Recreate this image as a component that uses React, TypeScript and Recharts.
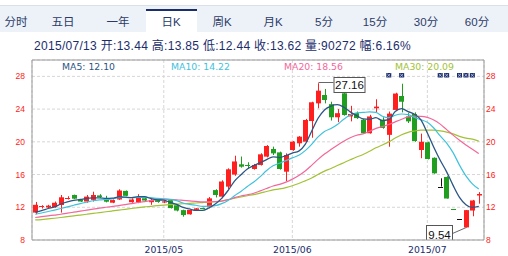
import React from 'react';
import { ComposedChart, Bar, Line, XAxis, YAxis, CartesianGrid, Scatter, ReferenceLine } from 'recharts';

const opens = [11.35,12.0,11.97,12.0,12.28,13.05,13.5,12.95,12.7,12.9, 13.45,13.0,12.56,12.95,14.0,12.62,12.6,13.1,12.62,12.95, 12.58,12.87,12.25,11.65,11.14,11.68,11.9,12.0,14.1,13.3, 14.52,16.0,17.25,17.12,16.68,17.17,18.19,19.12,18.71,16.35, 19.0,19.82,20.02,22.54,24.7,25.72,24.6,23.0,25.93,23.1, 23.5,22.7,21.05,24.1,22.7,20.85,23.9,25.6,23.1,23.4, 19.0,19.94,18.05,14.53,15.7,11.78,10.59,9.54,11.6,13.44];
const closes = [12.3,12.1,12.2,12.55,13.22,13.15,13.05,12.7,13.3,13.5, 13.25,12.68,12.88,14.05,13.4,12.95,13.25,12.82,12.9,12.65, 12.72,11.9,11.6,11.05,11.67,11.87,11.85,13.09,13.5,15.15, 16.64,17.6,16.96,17.06,17.17,18.47,19.49,18.59,16.68,18.39, 20.02,20.63,22.67,24.83,26.25,25.11,23.0,23.5,23.28,23.4, 22.9,21.05,23.1,24.3,21.7,23.45,25.9,24.9,22.5,20.1, 20.0,17.9,16.15,14.53,13.07,11.76,10.59,11.65,12.83,13.62];
const highs = [12.65,12.25,12.3,12.7,13.5,13.35,13.55,13.0,13.5,13.9, 13.6,13.4,12.95,14.2,14.05,13.1,13.6,13.3,13.05,13.0, 12.8,12.95,12.3,11.7,11.7,11.9,11.95,13.25,14.2,15.3, 16.76,18.3,18.2,17.5,17.3,18.6,19.6,19.41,18.8,18.59, 20.1,20.7,22.8,24.9,27.16,26.46,24.9,24.0,26.0,24.4, 23.7,22.8,23.3,25.2,23.0,23.7,26.0,27.1,23.5,23.6, 21.0,20.0,18.1,15.54,15.8,11.78,10.59,11.65,12.9,13.85];
const lows = [11.15,11.85,11.9,11.95,11.35,12.95,13.0,12.65,12.55,12.7, 13.15,12.6,12.5,12.9,13.35,12.55,12.5,12.7,12.3,12.55, 12.5,11.85,11.5,10.85,11.1,11.6,11.8,11.87,13.2,13.1, 14.2,15.85,16.84,16.7,16.6,17.1,18.1,18.39,16.6,15.21, 18.9,19.41,19.95,20.5,24.1,24.7,22.6,22.4,23.2,22.5, 22.8,21.0,21.0,23.6,21.6,19.4,23.85,23.6,22.3,20.0, 18.0,17.85,16.1,14.53,13.07,11.76,10.59,9.54,10.9,12.44];

const ma5 = [11.4,11.6,11.85,12.05,12.4,12.65,12.85,12.95,13.08,13.14, 13.16,13.09,13.12,13.27,13.25,13.19,13.31,13.29,13.06,12.91, 12.87,12.6,12.35,11.98,11.79,11.62,11.61,11.91,12.4,13.09, 14.05,15.2,15.97,16.68,17.09,17.45,17.83,18.16,18.08,18.32, 18.63,18.86,19.68,21.3,22.88,23.9,24.37,24.54,24.23,23.66, 23.2,22.8,22.75,22.95,22.6,22.7,23.7,24.05,23.7,23.37, 22.68,21.08,19.33,17.74,16.33,14.68,13.22,12.32,11.98,12.10];
const ma10 = [11.15,11.3,11.48,11.66,11.85,12.05,12.25,12.45,12.62,12.8, 12.9,12.96,13.02,13.17,13.2,13.17,13.2,13.2,13.17,13.08, 13.03,12.95,12.82,12.52,12.35,12.25,12.1,12.13,12.19,12.44, 12.83,13.4,13.94,14.54,15.09,15.75,16.5,17.07,17.38,17.7, 18.04,18.35,18.92,19.69,20.6,21.27,21.62,22.11,22.77,23.27, 23.55,23.59,23.65,23.59,23.13,22.95,23.25,23.4,23.33,22.99, 22.69,22.39,21.69,20.72,19.85,18.68,17.15,15.83,14.86,14.22];
const ma20 = [10.75,10.85,10.95,11.05,11.15,11.28,11.4,11.52,11.65,11.78, 11.9,12.0,12.1,12.2,12.32,12.45,12.58,12.7,12.82,12.94, 12.97,12.96,12.92,12.85,12.78,12.71,12.65,12.67,12.68,12.76, 12.93,13.18,13.38,13.53,13.72,14.0,14.3,14.6,14.79,15.07, 15.44,15.88,16.43,17.12,17.85,18.51,19.06,19.59,20.08,20.49, 20.8,20.97,21.29,21.64,21.87,22.11,22.44,22.76,23.05,23.13, 23.12,22.99,22.67,22.16,21.49,20.82,20.2,19.62,19.1,18.56];
const ma30 = [10.45,10.5,10.58,10.66,10.75,10.85,10.95,11.05,11.15,11.25, 11.35,11.45,11.55,11.65,11.75,11.85,11.95,12.05,12.12,12.2, 12.27,12.33,12.38,12.43,12.48,12.52,12.57,12.62,12.7,12.77, 12.92,13.1,13.26,13.41,13.55,13.72,13.93,14.13,14.25,14.41, 14.63,14.9,15.23,15.58,16.01,16.42,16.74,17.1,17.45,17.8, 18.14,18.45,18.84,19.27,19.61,19.99,20.46,20.86,21.16,21.32, 21.43,21.44,21.42,21.33,21.19,20.97,20.67,20.45,20.32,20.09];

const monthTicks = [20, 40, 61];
const monthLabels = ['2015/05', '2015/06', '2015/07'];
const markerDays = [55, 57, 63, 64, 66, 67, 68];
const yTicks = [8, 12, 16, 20, 24, 28];
const yDomain = [8, 30];

const tabs = ['分时', '五日', '一年', '日K', '周K', '月K', '5分', '15分', '30分', '60分'];
const activeTab = '日K';
const infoDate = '2015/07/13';
const infoNames = ['开', '高', '低', '收', '量', '幅'];
const infoValues = ['13.44', '13.85', '12.44', '13.62', '90272', '6.16%'];
const maNames = ['MA5', 'MA10', 'MA20', 'MA30'];

// styles / layout
const RED = '#ff1f1f';
const GREEN = '#1f9e1f';
const FLAT = '#111';
const MA_COLORS = ['#2b5585', '#3ec2dc', '#f2679a', '#a2c236'];
const TAB_CENTERS = [16, 63, 118, 171, 222, 273, 324, 375, 426, 477];
const LEGEND_X = [62, 171, 284, 395];
const NAVY = '#1c2d6c';

const maxIdx = highs.indexOf(Math.max(...highs));
const minIdx = lows.indexOf(Math.min(...lows));

const data = opens.map((o, i) => ({
  i,
  open: o,
  close: closes[i],
  high: highs[i],
  low: lows[i],
  range: [lows[i], highs[i]],
  ma5: ma5[i],
  ma10: ma10[i],
  ma20: ma20[i],
  ma30: ma30[i],
  marker: markerDays.includes(i) ? yDomain[1] : null,
}));

const Candle = (props: any) => {
  const { x, y, width, height, payload } = props;
  if (!payload || x == null) return null;
  const { open, close, high, low, i } = payload;
  const color = close > open ? RED : close < open ? GREEN : FLAT;
  const cx = Math.round(x + width / 2) + 0.5;
  const ratio = high > low ? height / (high - low) : 0;
  const yOf = (v: number) => y + (high - v) * ratio;
  const top = yOf(Math.max(open, close));
  const bot = yOf(Math.min(open, close));
  const bx = Math.round(x);
  const bw = Math.round(width);
  const parts: any[] = [];
  parts.push(<line key="w" x1={cx} x2={cx} y1={y} y2={y + height} stroke={color} strokeWidth={1} />);
  if (bot - top < 1) {
    const yy = Math.round(top) + 0.5;
    parts.push(<line key="b" x1={bx} x2={bx + bw} y1={yy} y2={yy} stroke={color} strokeWidth={1} />);
  } else {
    parts.push(<rect key="b" x={bx} y={top} width={bw} height={bot - top} fill={color} />);
  }
  if (i === maxIdx) {
    const ly = Math.round(y) - 0.5;
    const bxl = cx + 15;
    parts.push(<line key="al" x1={cx} x2={bxl} y1={ly} y2={ly} stroke="#666" strokeWidth={1} />);
    parts.push(<rect key="ab" x={bxl + 0.5} y={ly - 5} width={31} height={15} fill="#fff" stroke="#555" strokeWidth={1} />);
    parts.push(<text key="at" x={bxl + 16} y={ly + 6.5} textAnchor="middle" fontSize={11.5} fontFamily="Liberation Sans, Arial, sans-serif" fill="#111">{high.toFixed(2)}</text>);
  }
  if (i === minIdx) {
    const ly = y + height;
    const br = cx - 14;
    const bt = Math.round(ly) - 1.5;
    parts.push(<line key="ml" x1={br} x2={cx} y1={bt + 8} y2={ly} stroke="#666" strokeWidth={1} />);
    parts.push(<rect key="mb" x={br - 26} y={bt} width={26} height={17} fill="#fff" stroke="#555" strokeWidth={1} />);
    parts.push(<text key="mt" x={br - 13} y={bt + 13} textAnchor="middle" fontSize={11.5} fontFamily="Liberation Sans, Arial, sans-serif" fill="#111">{low.toFixed(2)}</text>);
  }
  return <g>{parts}</g>;
};

const Marker = (props: any) => {
  const { cx, cy } = props;
  if (cx == null || cy == null) return null;
  const y0 = cy + 13;
  return (
    <g>
      <rect x={cx - 2.5} y={y0} width={5} height={4.5} fill={NAVY} />
      <line x1={cx - 1.5} y1={y0 + 0.8} x2={cx + 1.5} y2={y0 + 3.7} stroke="#c8d0ee" strokeWidth={0.8} />
      <line x1={cx + 1.5} y1={y0 + 0.8} x2={cx - 1.5} y2={y0 + 3.7} stroke="#c8d0ee" strokeWidth={0.8} />
    </g>
  );
};

const maLast = [ma5, ma10, ma20, ma30].map((a) => a[a.length - 1].toFixed(2));

export default function App() {
  const tickStyle = { fill: '#ff2020', fontSize: 8.5, fontFamily: 'Liberation Sans, Arial, sans-serif' };
  return (
    <div style={{ position: 'absolute', left: 0, top: 0, width: 508, height: 256, background: '#fff', overflow: 'hidden' }}>
      <div style={{ position: 'absolute', left: 0, top: 0 }}>
        <ComposedChart width={508} height={256} data={data} margin={{ top: 60, right: 0, bottom: 0, left: 0 }}>
          <CartesianGrid stroke="#d6d6d6" strokeDasharray="3 2" />
          <XAxis
            dataKey="i"
            type="category"
            ticks={monthTicks}
            interval={0}
            tickFormatter={(v: any) => monthLabels[monthTicks.indexOf(Number(v))]}
            height={16}
            tickLine={false}
            tickSize={0}
            tickMargin={6}
            axisLine={{ stroke: '#999' }}
            padding={{ left: 0, right: 2 }}
            tick={{ fill: NAVY, fontSize: 9.3, fontFamily: 'DejaVu Sans, sans-serif' }}
          />
          <YAxis
            domain={yDomain}
            ticks={yTicks}
            width={32}
            tickLine={false}
            tickSize={0}
            tickMargin={7}
            axisLine={{ stroke: '#999' }}
            tick={tickStyle}
            allowDataOverflow
          />
          <YAxis
            yAxisId="right"
            orientation="right"
            domain={yDomain}
            ticks={yTicks}
            width={24}
            tickLine={false}
            tickSize={0}
            tickMargin={2}
            axisLine={{ stroke: '#999' }}
            tick={{ ...tickStyle, textAnchor: 'start' }}
            allowDataOverflow
          />
          <ReferenceLine y={yDomain[1]} stroke="#999" />
          <Bar dataKey="range" barSize={5} shape={Candle} isAnimationActive={false} />
          <Line dataKey="ma30" type="monotone" stroke={MA_COLORS[3]} strokeWidth={1.2} dot={false} isAnimationActive={false} />
          <Line dataKey="ma20" type="monotone" stroke={MA_COLORS[2]} strokeWidth={1.2} dot={false} isAnimationActive={false} />
          <Line dataKey="ma10" type="monotone" stroke={MA_COLORS[1]} strokeWidth={1.2} dot={false} isAnimationActive={false} />
          <Line dataKey="ma5" type="monotone" stroke={MA_COLORS[0]} strokeWidth={1.3} dot={false} isAnimationActive={false} />
          <Scatter dataKey="marker" shape={Marker} isAnimationActive={false} />
        </ComposedChart>
      </div>
      <svg width={508} height={256} style={{ position: 'absolute', left: 0, top: 0, pointerEvents: 'none' }}>
        <rect x={0} y={5} width={508} height={27} fill="#edf2f9" />
        <line x1={0} x2={508} y1={5.5} y2={5.5} stroke="#d9e0ec" />
        {tabs.map((t, k) =>
          t === activeTab ? (
            <g key={'a' + k}>
              <rect x={TAB_CENTERS[k] - 25} y={9} width={51} height={23} fill="#fff" />
              <rect x={TAB_CENTERS[k] - 25} y={9} width={51} height={2} fill={NAVY} />
            </g>
          ) : null
        )}
        {tabs.map((t, k) => (
          <text key={k} x={TAB_CENTERS[k]} y={26} textAnchor="middle" fontSize={11.5} fill="#2c3b66" fontFamily="Liberation Sans, Arial, 'Noto Sans CJK SC', sans-serif">{t}</text>
        ))}
        <text x={34} y={50} fontSize={12} letterSpacing={0.3} fill={NAVY} fontFamily="Liberation Sans, Arial, 'Noto Sans CJK SC', sans-serif">
          {infoDate + ' ' + infoNames.map((n, k) => n + ':' + infoValues[k]).join(' ')}
        </text>
        {maNames.map((n, k) => (
          <text key={n} x={LEGEND_X[k]} y={70} fontSize={9.3} fill={MA_COLORS[k]} fontFamily="DejaVu Sans, sans-serif">{n + ': ' + maLast[k]}</text>
        ))}
      </svg>
    </div>
  );
}
